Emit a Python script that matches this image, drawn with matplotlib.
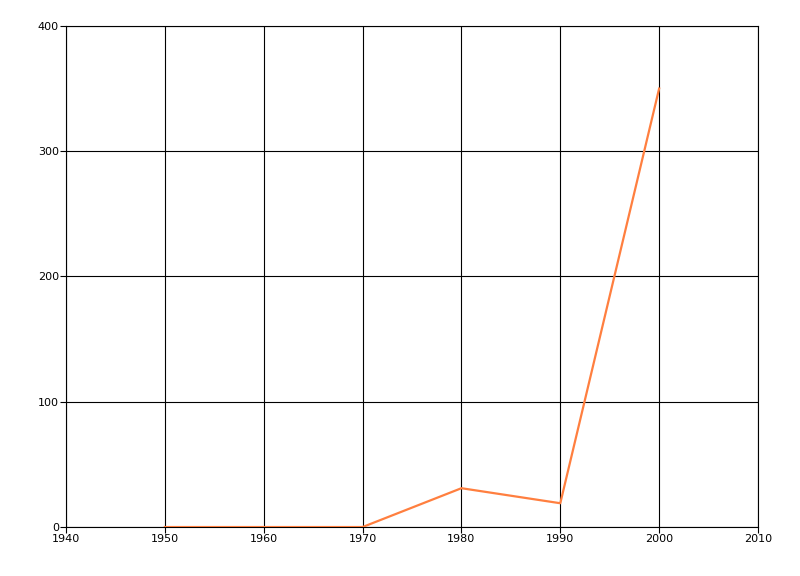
import matplotlib
matplotlib.use('Agg')
import matplotlib.pyplot as plt

years = [1950, 1960, 1970, 1980, 1990, 2000]
values = [0, 0, 0, 31, 19, 350]
x_ticks = [1940, 1950, 1960, 1970, 1980, 1990, 2000, 2010]
y_ticks = [0, 100, 200, 300, 400]

fig = plt.figure(figsize=(8, 5.76), dpi=100)
ax = fig.add_axes([0.0825, 0.085, 0.865, 0.87])

ax.plot(years, values, color='#ff7f3f', linewidth=1.6, zorder=3)

ax.set_xlim(1940, 2010)
ax.set_ylim(0, 400)
ax.set_xticks(x_ticks)
ax.set_yticks(y_ticks)
ax.grid(True, color='black', linewidth=0.8)
ax.set_axisbelow(True)
for s in ax.spines.values():
    s.set_color('black')
    s.set_linewidth(0.8)
ax.tick_params(axis='both', labelsize=8, length=4, width=0.8, direction='out', pad=1)

plt.savefig('out.png', dpi=100)
plt.close()
